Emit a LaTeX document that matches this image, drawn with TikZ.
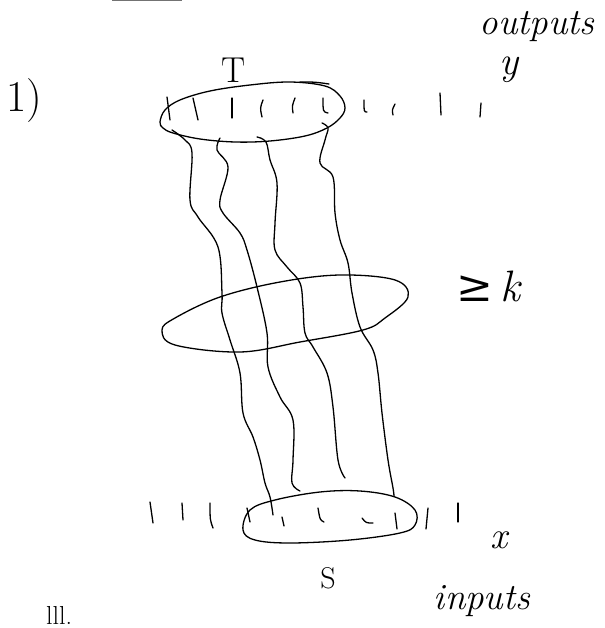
\documentclass[tikz,border=0pt]{standalone}
\usepackage{fontspec}
\newfontfamily\symfnt{DejaVu Serif}
\begin{document}
\begin{tikzpicture}[x=1pt,y=-1pt,
  ink/.style={line width=1.3pt,line cap=round,line join=round},
  hand/.style={inner sep=0pt,font=\fontsize{#1}{#1}\selectfont\itshape},
  hand/.default=34]
\useasboundingbox (0,0) rectangle (604,628);
% faint stroke at top edge
\draw[line width=3pt,black!55] (112,0) -- (182,0);
% labels
\node[hand=44] (one) at (24,101) {\upshape 1)};
\node[hand=36] (T) at (234,70) {\upshape T};
\node[hand=37] (outputs) at (537,27) {outputs};
\node[hand=40] (y) at (509,70) {y};
\node[hand=44] (gek) at (488,286) {{\symfnt\upshape ≥}\,k};
\node[hand=30] (S) at (328,578) {\upshape S};
\node[hand=38] (x) at (499,540) {x};
\node[hand=37] (inputs) at (482,601) {inputs};
\node[hand=26,anchor=north west] (iii) at (46,606) {\upshape lll.};
% top ellipse T
\draw[ink] plot[smooth cycle,tension=0.6] coordinates {(160,122) (165,110) (180,100) (210,91) (250,85) (290,82) (325,86) (340,96) (345,108) (340,118) (327,128) (305,136) (270,141) (235,142) (200,139) (173,133) (163,128)};
\draw[ink] (300,82) .. controls (315,82) .. (329,84);
% ticks inside top ellipse
\draw[ink] (167,97) -- (170,120);
\draw[ink] (193,98) -- (198,120);
\draw[ink] (232,98) -- (232,118);
\draw[ink] (263,100) .. controls (260,108) .. (262,117);
\draw[ink] (295,98) .. controls (292,106) .. (293,113);
\draw[ink] (323,98) .. controls (323,112) .. (328,113);
% ticks right of top ellipse (outputs)
\draw[ink] (364,100) .. controls (364,112) .. (367,112);
\draw[ink] (395,104) .. controls (392,110) .. (393,115);
\draw[ink] (440,93) -- (441,115);
\draw[ink] (481,103) -- (480,117);
% middle ellipse
\draw[ink] plot[smooth cycle,tension=0.6] coordinates {(162,330) (175,318) (220,297) (280,282) (340,275) (395,280) (408,297) (385,318) (363,330) (300,342) (240,352) (175,345)};
% wavy paths
\draw[ink] plot[smooth,tension=0.6] coordinates {(172,130) (185,140) (192,153) (190,200) (198,217) (218,247) (222,293) (222,313) (230,340) (240,373) (243,413) (253,437) (260,460) (265,483) (270,497) (273,515)};
\draw[ink] plot[smooth,tension=0.6] coordinates {(220,138) (217,150) (228,167) (220,200) (223,213) (240,233) (247,250) (257,287) (267,333) (268,367) (280,397) (293,420) (293,460) (292,483) (300,491)};
\draw[ink] plot[smooth,tension=0.6] coordinates {(257,137) (266,142) (270,160) (277,183) (275,223) (275,250) (287,267) (300,283) (303,307) (305,333) (313,347) (327,373) (333,407) (338,460) (345,478)};
\draw[ink] plot[smooth,tension=0.6] coordinates {(322,123) (328,128) (325,140) (320,163) (333,177) (335,213) (340,240) (348,263) (352,293) (360,327) (373,350) (378,373) (382,413) (388,460) (393,488) (394,496)};
% bottom ellipse S
\draw[ink] plot[smooth cycle,tension=0.6] coordinates {(243,530) (250,510) (275,500) (320,492) (360,491) (395,497) (415,510) (415,525) (400,533) (350,540) (290,543) (255,540)};
% ticks of bottom ellipse (inputs)
\draw[ink] (150,502) -- (153,523);
\draw[ink] (182,503) -- (183,520);
\draw[ink] (210,503) .. controls (210,520) .. (213,528);
\draw[ink] (247,508) -- (250,522);
\draw[ink] (282,517) -- (284,526);
\draw[ink] (318,508) .. controls (320,520) .. (324,522);
\draw[ink] (362,518) .. controls (366,523) .. (373,523);
\draw[ink] (395,513) -- (397,529);
\draw[ink] (428,508) -- (426,529);
\draw[ink] (458,503) -- (458,522);
\end{tikzpicture}
\end{document}
